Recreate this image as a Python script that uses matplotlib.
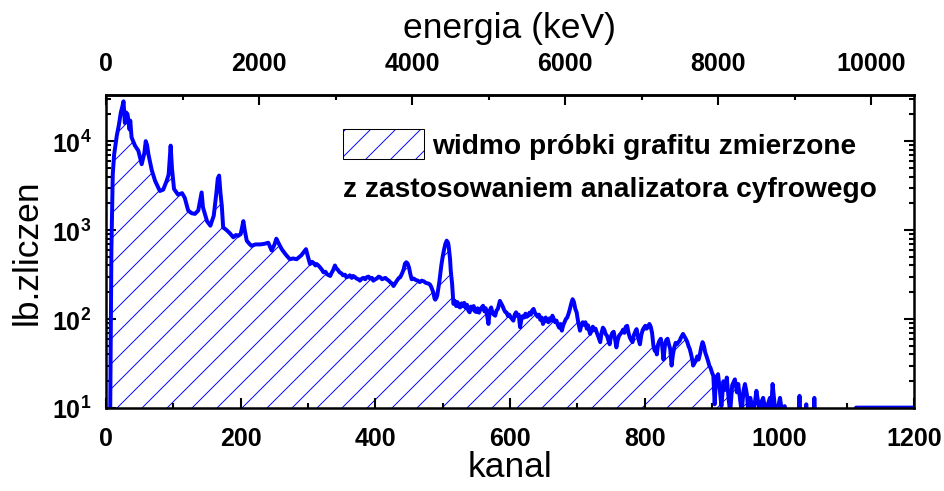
import matplotlib.pyplot as plt
from matplotlib.patches import Patch
from matplotlib.legend_handler import HandlerTuple
from matplotlib.ticker import MultipleLocator, LogLocator

# spectrum, in four pieces (channel, counts)
kanal_a = [6, 8, 10, 12, 16, 19, 22, 24, 26, 28, 30, 32, 35, 36, 38, 43, 48, 53, 57, 59,
           61, 63, 68, 73, 80, 85, 90, 93, 96, 98, 101, 107, 113, 117, 122, 127, 132, 137, 140, 142,
           144, 147, 150, 155, 160, 164, 166, 168, 170, 172, 174, 179, 184, 189, 193, 196, 200, 204, 206, 209,
           213, 216, 222, 229, 235, 241, 246, 250, 253, 256, 261, 267, 273, 278, 283, 290, 297]
zlicz_a = [5, 600, 4200, 7000, 11500, 15000, 21000, 24000, 28000, 16000, 21000, 20000, 13500, 17000, 11000, 8900, 7800, 5500, 7400, 10000,
           9000, 7100, 4700, 3560, 2750, 2850, 3560, 4200, 8900, 4900, 2900, 2500, 2600, 2300, 1660, 1550, 1520, 1660, 2200, 2650,
           1800, 1500, 1260, 1120, 1450, 2650, 3800, 4100, 2600, 1860, 1070, 1000, 920, 830, 880, 860, 900, 1260, 1000, 760,
           700, 665, 690, 690, 700, 720, 590, 680, 800, 720, 610, 530, 470, 480, 470, 520, 610]

kanal_b = [300, 303, 306, 308, 311, 313, 316, 318, 321, 323,
           326, 328, 331, 333, 335, 337, 340, 342, 344, 347,
           350, 352, 355, 357, 360, 362, 365, 367, 370, 372,
           375, 377, 380, 382, 385, 387, 390, 392, 395, 397,
           400, 402, 405, 407, 410, 412, 415, 417, 420, 422,
           425, 427, 430, 432, 435, 437, 440, 442, 444, 446,
           448, 450, 452, 454, 457, 460, 463, 466, 469, 472,
           475, 479, 481, 483, 486, 488, 489, 491, 492, 495,
           498, 500, 502, 504, 506, 508, 509, 511, 512]
zlicz_b = [500, 415, 440, 430, 400, 415, 395, 380, 355, 335,
           340, 320, 310, 305, 330, 350, 400, 370, 360, 335,
           325, 310, 315, 295, 300, 310, 290, 305, 295, 285,
           280, 270, 285, 290, 280, 295, 300, 285, 290, 270,
           280, 285, 300, 295, 280, 285, 290, 280, 270, 260,
           250, 235, 255, 270, 290, 295, 330, 360, 420, 435,
           420, 380, 320, 280, 285, 275, 270, 260, 270, 265,
           255, 250, 245, 230, 200, 170, 165, 175, 185, 260,
           400, 500, 600, 700, 760, 720, 650, 470, 350]

kanal_c = [514, 516, 518, 520, 522, 524, 526, 528, 530, 532,
           534, 536, 538, 540, 542, 544, 546, 548, 550, 552,
           554, 556, 558, 560, 562, 564, 566, 568, 570, 572,
           574, 576, 578, 580, 582, 584, 585, 587, 589, 591,
           593, 595, 597, 599, 601, 603, 605, 607, 609, 611,
           613, 615, 617, 619, 621, 623, 625, 627, 629, 631,
           633, 635, 637, 639, 641, 643, 645, 647, 649, 651,
           653, 655, 657, 659, 661, 663, 665, 667, 669, 671,
           673, 675, 677, 679, 681, 683, 685, 687, 689, 691,
           693, 695, 697, 699, 701, 703, 704, 706, 708, 710,
           712, 714, 716, 718, 719, 721, 723, 725, 727, 729,
           731, 733, 734, 736, 738, 740, 742, 744, 746, 748,
           750, 752, 754, 756, 758, 760, 762, 764, 766, 768,
           770, 772, 774, 776, 778, 780, 782, 784, 786, 788,
           790, 792, 793, 795, 797, 799, 801, 803, 805, 807,
           809, 811, 813, 815, 817, 818, 820, 822, 824, 826,
           828, 830, 832, 834, 836, 838, 840, 842, 844, 846,
           848, 850, 852, 854, 856, 857, 859, 861, 863, 865,
           867, 869, 871, 872, 874, 876, 878, 880, 882, 884,
           886, 888, 890, 892, 894, 896, 898, 900, 902]
zlicz_c = [250, 148, 160, 140, 155, 138, 135, 150, 140, 152,
           133, 145, 125, 119, 138, 128, 140, 122, 120, 132,
           118, 128, 135, 141, 122, 132, 110, 88, 125, 135,
           118, 112, 109, 125, 130, 150, 160, 150, 140, 128,
           120, 118, 108, 112, 105, 100, 96, 112, 119, 108,
           112, 81, 100, 108, 104, 115, 106, 109, 118, 112,
           125, 130, 118, 112, 106, 112, 98, 104, 88, 96,
           104, 95, 92, 102, 96, 109, 100, 92, 96, 86,
           80, 88, 74, 85, 92, 100, 104, 115, 130, 150,
           167, 155, 130, 119, 95, 80, 74, 85, 92, 86,
           92, 78, 85, 72, 68, 76, 82, 75, 78, 70,
           64, 58, 55, 70, 80, 76, 68, 65, 58, 52,
           64, 70, 72, 60, 48, 58, 65, 68, 71, 76,
           70, 82, 84, 70, 62, 58, 55, 66, 72, 77,
           64, 55, 52, 66, 75, 80, 84, 78, 82, 88,
           82, 70, 50, 44, 48, 40, 52, 57, 60, 50,
           35, 50, 58, 60, 52, 46, 30, 40, 48, 54,
           52, 55, 57, 62, 66, 68, 64, 60, 56, 50,
           46, 40, 34, 30, 32, 34, 38, 35, 40, 48,
           55, 50, 42, 38, 34, 30, 28, 25, 23]

kanal_d = [904, 906, 909, 912, 914, 917, 920, 922, 925, 927,
           930, 934, 937, 939, 942, 944, 947, 949, 952, 954,
           957, 961, 964, 966, 969, 971, 974, 976, 980, 983,
           986, 988, 990, 993, 995, 998, 1001, 1004, 1008, 1012,
           1020, 1028, 1030, 1032, 1038, 1040, 1042, 1050, 1052, 1054,
           1062, 1110, 1114, 1200]
zlicz_d = [11, 22, 24, 15, 10.5, 20, 16, 22, 12, 9,
           18, 21, 15, 18.6, 12, 9, 16, 18.6, 14, 9,
           13, 9, 12, 15.6, 11, 8, 12, 13, 9, 11,
           13, 10, 18.6, 11, 8, 10, 13, 9, 10.5, 7,
           6, 7, 13.7, 6, 7, 11, 6, 6, 13, 6,
           1, 1, 10.1, 10.1]

kanal = kanal_a + kanal_b + kanal_c + kanal_d
zliczenia = zlicz_a + zlicz_b + zlicz_c + zlicz_d

KEV_PER_KANAL = 8.8

plt.rcParams['font.family'] = ['Liberation Sans', 'DejaVu Sans']
plt.rcParams['font.weight'] = 'bold'
plt.rcParams['hatch.linewidth'] = 0.9

fig = plt.figure(figsize=(944 / 75, 492 / 75), dpi=75)
ax = fig.add_axes([0.1123, 0.1687, 0.8559, 0.6362])

ax.fill_between(kanal, zliczenia, 0.1, facecolor='none', edgecolor='#0000ff',
                linewidth=0, hatch='/')
ax.plot(kanal, zliczenia, color='#0000ff', lw=3.8, solid_joinstyle='round')

ax.set_yscale('log')
ax.set_xlim(0, 1200)
ax.set_ylim(10, 33000)
ax.xaxis.set_major_locator(MultipleLocator(200))
ax.xaxis.set_minor_locator(MultipleLocator(100))
ax.yaxis.set_minor_locator(LogLocator(subs=range(2, 10)))

for s in ax.spines.values():
    s.set_linewidth(2.4)
ax.tick_params(which='both', direction='in', right=True, top=False, width=2)
ax.tick_params(which='major', length=10, labelsize=24)
ax.tick_params(axis='x', which='major', pad=17)
ax.tick_params(axis='y', which='major', pad=14)
ax.tick_params(which='minor', length=5)

ax.set_xlabel('kanal', fontsize=34, fontweight='normal', labelpad=0)
ax.set_ylabel('lb.zliczen', fontsize=34, fontweight='normal', labelpad=8)

top = ax.secondary_xaxis('top', functions=(lambda c: c * KEV_PER_KANAL,
                                           lambda e: e / KEV_PER_KANAL))
top.xaxis.set_major_locator(MultipleLocator(2000))
top.xaxis.set_minor_locator(MultipleLocator(1000))
top.tick_params(which='both', direction='in', width=2)
top.tick_params(which='major', length=10, labelsize=24, pad=19)
top.tick_params(which='minor', length=5)
top.spines['top'].set_linewidth(2.4)
top.set_xlabel('energia (keV)', fontsize=34, fontweight='normal', labelpad=14)

h_hatch = Patch(facecolor='none', edgecolor='#0000ff', linewidth=0, hatch='/')
h_box = Patch(facecolor='none', edgecolor='black', linewidth=1)
ax.legend([(h_hatch, h_box)], ['widmo próbki grafitu zmierzone'],
          handler_map={tuple: HandlerTuple(ndivide=1, pad=0)},
          loc='upper left', bbox_to_anchor=(0.2933, 0.8914), frameon=False,
          borderpad=0, borderaxespad=0, fontsize=27,
          handlelength=2.88, handleheight=1.25, handletextpad=0.28)
ax.text(0.2933, 0.6773, 'z zastosowaniem analizatora cyfrowego', transform=ax.transAxes,
        fontsize=27, va='baseline', ha='left')

fig.savefig('out.png', dpi=75)
